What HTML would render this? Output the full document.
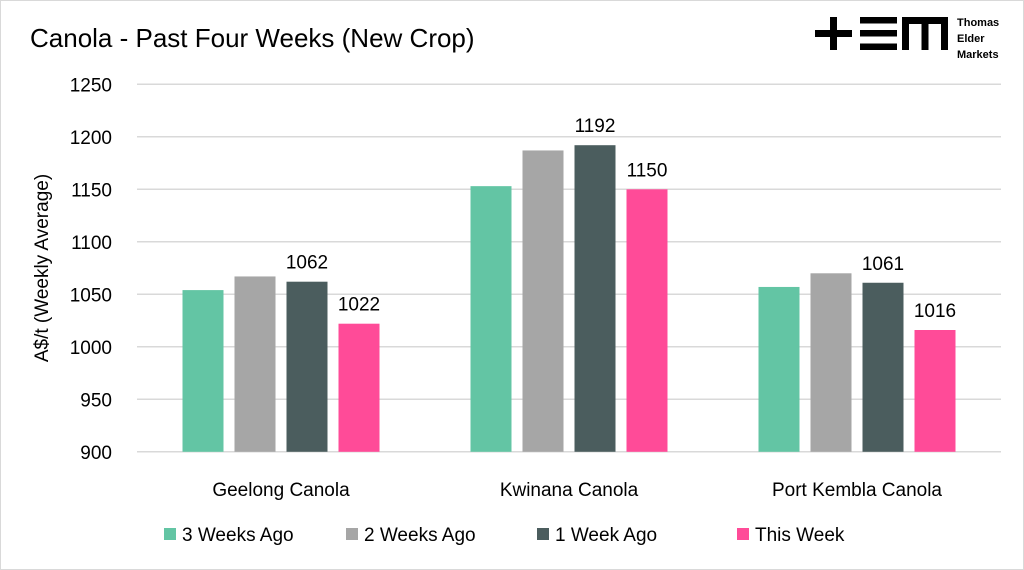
<!DOCTYPE html>
<html><head><meta charset="utf-8"><style>
body{margin:0;background:#fff;}
svg{display:block;font-family:"Liberation Sans",sans-serif;}
</style></head><body>
<svg width="1024" height="570" viewBox="0 0 1024 570">
<rect x="0.5" y="0.5" width="1023" height="569" fill="#fff" stroke="#d9d9d9"/>
<text x="30" y="47" font-size="26" fill="#000">Canola - Past Four Weeks (New Crop)</text>
<g>
<rect x="815" y="30" width="37" height="7" fill="#000"/>
<rect x="830" y="17" width="7" height="33" fill="#000"/>
<rect x="860" y="17" width="37" height="6.5" fill="#000"/>
<rect x="860" y="30" width="37" height="6.5" fill="#000"/>
<rect x="860" y="43.5" width="37" height="6.5" fill="#000"/>
<rect x="902" y="17" width="46" height="7" fill="#000"/>
<rect x="902" y="17" width="7" height="33" fill="#000"/>
<rect x="921.5" y="17" width="7" height="33" fill="#000"/>
<rect x="941" y="17" width="7" height="33" fill="#000"/>
<text x="957" y="26" font-size="11" font-weight="bold">Thomas</text>
<text x="957" y="42" font-size="11" font-weight="bold">Elder</text>
<text x="957" y="58" font-size="11" font-weight="bold">Markets</text>
</g>
<g id="grid"></g><g id="bars"></g><g id="labels"></g><g id="legend"></g>
<text transform="translate(48,268) rotate(-90)" text-anchor="middle" font-size="19">A$/t (Weekly Average)</text>
</svg>
<script>
const categories = ["Geelong Canola","Kwinana Canola","Port Kembla Canola"];
const seriesNames = ["3 Weeks Ago","2 Weeks Ago","1 Week Ago","This Week"];
const s3w = [1054,1153,1057];
const s2w = [1067,1187,1070];
const s1w = [1062,1192,1061];
const sTw = [1022,1150,1016];
const yTicks = [900,950,1000,1050,1100,1150,1200,1250];
const colors = ["#63c5a4","#a6a6a6","#4b5d5e","#ff4b98"];
const series=[s3w,s2w,s1w,sTw];
const NS="http://www.w3.org/2000/svg";
const L=137,R=1001,Y0=451.8,PPU=1.05;
const y=v=>Y0-(v-900)*PPU;
const gw=(R-L)/categories.length;
function mk(t,a,p){const e=document.createElementNS(NS,t);for(const k in a)e.setAttribute(k,a[k]);p.appendChild(e);return e;}
const grid=document.getElementById('grid'),bars=document.getElementById('bars'),labels=document.getElementById('labels'),leg=document.getElementById('legend');
yTicks.forEach(t=>{
 const l=mk('line',{x1:L,x2:R,y1:y(t),y2:y(t),stroke:'#d9d9d9','stroke-width':1.5},grid);
 
 
 const tx=mk('text',{x:112,y:y(t)+7,'text-anchor':'end','font-size':19},grid);
 tx.textContent=t;
 
 
});
const bw=41,step=52;
categories.forEach((c,i)=>{
 const cx=L+gw*(i+0.5);
 series.forEach((s,j)=>{
  const x=cx-2*step+5.5+j*step;
  const r=mk('rect',{x:x,y:y(s[i]),width:bw,height:Y0-y(s[i]),fill:colors[j]},bars);
  
  
  if(j>=2){
   const t=mk('text',{x:x+bw/2,y:y(s[i])-13,'text-anchor':'middle','font-size':19},labels);
   t.textContent=s[i];
   
   
  }
 });
 const ct=mk('text',{x:cx,y:496,'text-anchor':'middle','font-size':19},labels);
 ct.textContent=c;
 
 
});
const lx=[164,346,537,737];
seriesNames.forEach((n,j)=>{
 const g=mk('g',{},leg);
 
 
 mk('rect',{x:lx[j],y:528,width:12,height:12,fill:colors[j]},g);
 const t=mk('text',{x:lx[j]+18,y:541,'font-size':19},g);
 t.textContent=n;
});
</script>
</body></html>
